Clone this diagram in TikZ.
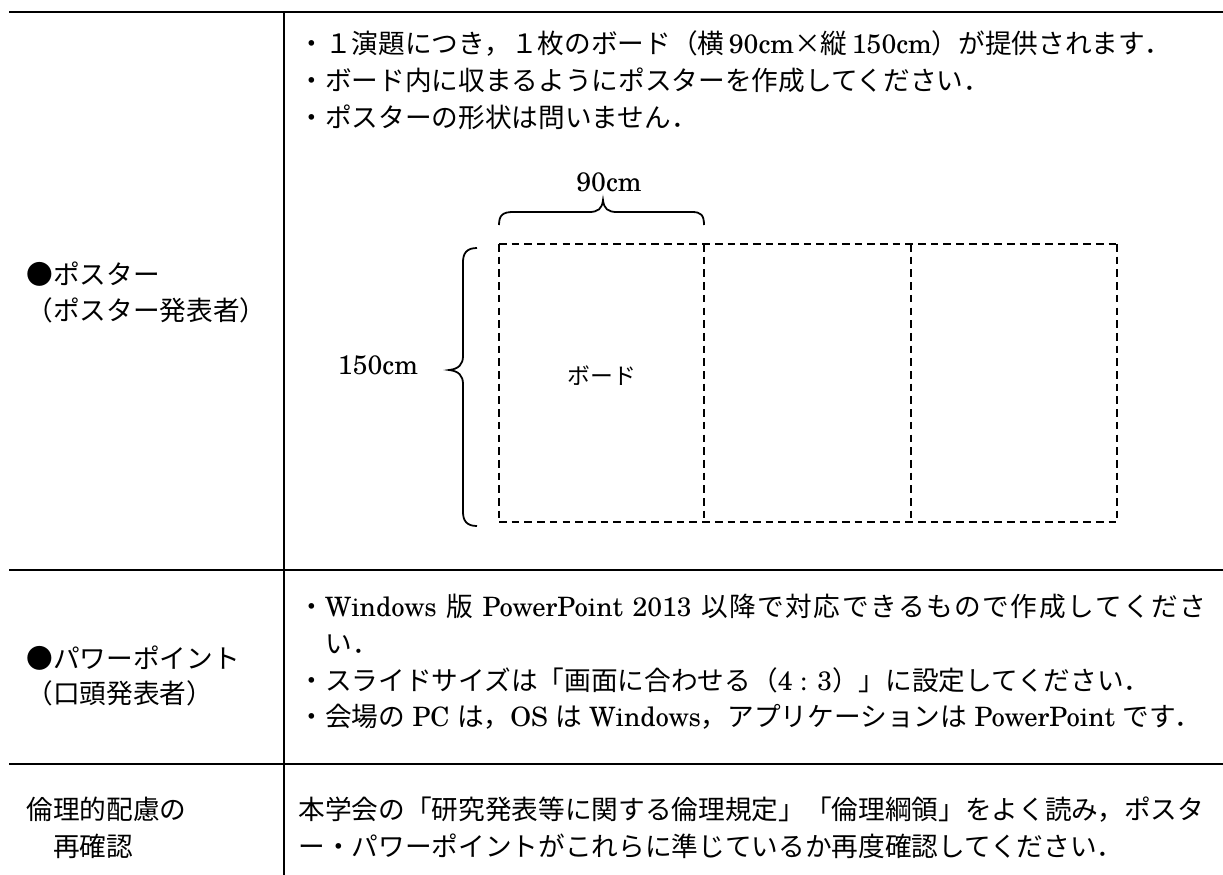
\documentclass[tikz,border=0pt]{standalone}
\usepackage{fontspec}
\setmainfont{texgyreschola-regular.otf}
\newfontfamily\jpfont{Noto Sans CJK JP}
\newcommand{\J}[1]{{\jpfont #1}}
\newcommand{\G}[1]{{\jpfont #1}}
\newcommand{\jg}{\hspace{0pt plus 1pt}}
\begin{document}
\begin{tikzpicture}[x=0.3937pt,y=-0.3937pt,
  tbl/.style={line width=0.8pt},
  board/.style={line width=0.85pt, dash pattern=on 3pt off 2pt},
  divider/.style={line width=1pt, dash pattern=on 3pt off 2pt},
  bracepath/.style={line width=0.7pt},
  txt/.style={anchor=base west, inner sep=0pt, font=\fontsize{10.5pt}{12pt}\selectfont},
  lbl/.style={anchor=center, inner sep=0pt, font=\fontsize{10.5pt}{12pt}\selectfont},
  small/.style={anchor=center, inner sep=0pt, font=\fontsize{9pt}{11pt}\selectfont},
]
\path[use as bounding box] (0,0) rectangle (1223,875);

% table rules
\coordinate (tl) at (9,12);   \coordinate (tr) at (1223,12);
\coordinate (ml) at (9,570);  \coordinate (mr) at (1223,570);
\coordinate (bl) at (9,764);  \coordinate (br) at (1223,764);
\coordinate (vt) at (284,12); \coordinate (vb) at (284,875);
\draw[tbl] (tl) -- (tr);
\draw[tbl] (ml) -- (mr);
\draw[tbl] (bl) -- (br);
\draw[tbl] (vt) -- (vb);

% left column labels
\node[txt] (l1) at (26,284) {\G{●ポスター}};
\node[txt] (l2) at (26,320) {\G{（ポスター発表者）}};
\node[txt] (l3) at (26,668) {\G{●パワーポイント}};
\node[txt] (l4) at (26,703) {\G{（口頭発表者）}};
\node[txt] (l5) at (26,819) {\G{倫理的配慮の}};
\node[txt] (l6) at (26,856) {\G{　再確認}};

% poster row text
\node[txt] (p1) at (298,53) {\J{・１演題につき，１枚のボード（横}\,90cm\J{×縦}\,150cm\J{）が提供されます．}};
\node[txt] (p2) at (298,90) {\J{・ボード内に収まるようにポスターを作成してください．}};
\node[txt] (p3) at (298,127) {\J{・ポスターの形状は問いません．}};

% boards
\coordinate (b0t) at (499,244);  \coordinate (b0b) at (499,522);
\coordinate (b1t) at (704,244);  \coordinate (b1b) at (704,522);
\coordinate (b2t) at (911,244);  \coordinate (b2b) at (911,522);
\coordinate (b3t) at (1117,244); \coordinate (b3b) at (1117,522);
\draw[board] (b0t) -- (b3t);
\draw[board] (b0b) -- (b3b);
\draw[board] (b0t) -- (b0b);
\draw[board] (b3t) -- (b3b);
\draw[divider] (b1t) -- (b1b);
\draw[divider] (b2t) -- (b2b);
\node[small] (bd) at (602,376) {\J{ボード}};

% braces
\draw[bracepath] (499,225) .. controls (499,215) and (503,212) .. (513,212) -- (589,212)
  .. controls (598,212) and (602,209) .. (603,200)
  .. controls (604,209) and (608,212) .. (617,212) -- (692,212)
  .. controls (701,212) and (704,215) .. (704,225);
\node[lbl] (w) at (609,182) {90cm};
\draw[bracepath] (477,248) .. controls (467,248) and (463,253) .. (463,262) -- (463,356)
  .. controls (463,364) and (459,369) .. (449,370)
  .. controls (459,371) and (463,376) .. (463,384) -- (463,512)
  .. controls (463,521) and (467,526) .. (477,526);
\node[lbl] (h) at (378,365) {150cm};

% powerpoint row text
\node[txt] (q1) at (298,616) {\makebox[357.5pt][s]{\J{・}Windows \J{版} PowerPoint 2013 \J{以\jg 降\jg で\jg 対\jg 応\jg で\jg き\jg る\jg も\jg の\jg で\jg 作\jg 成\jg し\jg て\jg く\jg だ\jg さ}}};
\node[txt] (q2) at (325,653) {\J{い．}};
\node[txt] (q3) at (298,690) {\J{・スライドサイズは「画面に合わせる（}4 : 3\J{）」に設定してください．}};
\node[txt] (q4) at (298,726) {\J{・会場の} PC \J{は，}OS \J{は} Windows\J{，アプリケーションは} PowerPoint \J{です．}};

% ethics row text
\node[txt] (e1) at (298,819) {\J{本学会の「研究発表等に関する倫理規定」「倫理綱領」をよく読み，ポスタ}};
\node[txt] (e2) at (298,856) {\J{ー・パワーポイントがこれらに準じているか再度確認してください．}};
\end{tikzpicture}
\end{document}
